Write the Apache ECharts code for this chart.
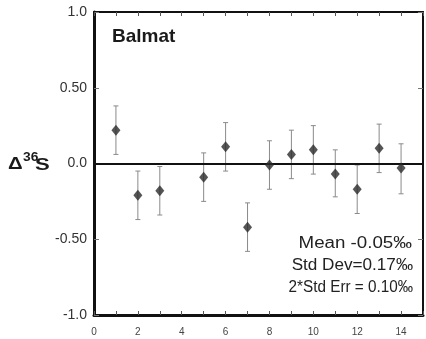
<!DOCTYPE html>
<html><head><meta charset="utf-8">
<script src="https://cdn.jsdelivr.net/npm/echarts@6/dist/echarts.min.js"></script>
<style>html,body{margin:0;padding:0;background:#fff}#c{width:426px;height:339px}</style>
</head><body><div id="c"></div>
<script>
const sampleX = [1, 2, 3, 5, 6, 7, 8, 9, 10, 11, 12, 13, 14];
const delta36S = [0.22, -0.21, -0.18, -0.09, 0.11, -0.42, -0.01, 0.06, 0.09, -0.07, -0.17, 0.10, -0.03];
const errLow = [0.06, -0.37, -0.34, -0.25, -0.05, -0.58, -0.17, -0.10, -0.07, -0.22, -0.33, -0.06, -0.20];
const errHigh = [0.38, -0.05, -0.02, 0.07, 0.27, -0.26, 0.15, 0.22, 0.25, 0.09, -0.01, 0.26, 0.13];
const yTickValues = [-1, -0.5, 0, 0.5, 1];
const yTickLabels = ['-1.0', '-0.50', '0.0', '0.50', '1.0'];
const xTickLabels = ['0', '2', '4', '6', '8', '10', '12', '14'];
const statLines = ['Mean -0.05\u2030', 'Std Dev=0.17\u2030', '2*Std Err = 0.10\u2030'];

const FONT = '"Liberation Sans", Arial, sans-serif';
const chart = echarts.init(document.getElementById('c'), null, {renderer: 'canvas'});

function yLabel(v) {
  for (let i = 0; i < yTickValues.length; i++) {
    if (Math.abs(yTickValues[i] - v) < 1e-9) return yTickLabels[i];
  }
  return '';
}
function xLabel(v) {
  const s = String(Math.round(v));
  return xTickLabels.indexOf(s) >= 0 && Math.abs(v - Math.round(v)) < 1e-9 ? s : '';
}

const option = {
  animation: false,
  backgroundColor: '#fff',
  grid: {left: 94, top: 12, width: 335.5, height: 303, containLabel: false},
  xAxis: [
    {
      type: 'value', min: 0, max: 15, interval: 1, position: 'bottom',
      axisLine: {show: true, onZero: false, lineStyle: {color: '#111', width: 3}},
      axisTick: {show: true, inside: true, length: 4, lineStyle: {color: '#555', width: 1}},
      axisLabel: {formatter: xLabel, fontSize: 10, color: '#444', margin: 12, fontFamily: FONT},
      splitLine: {show: false}
    },
    {
      type: 'value', min: 0, max: 15, interval: 1, position: 'top',
      axisLine: {show: true, onZero: false, lineStyle: {color: '#111', width: 2}},
      axisTick: {show: true, inside: true, length: 4, lineStyle: {color: '#555', width: 1}},
      axisLabel: {show: false},
      splitLine: {show: false}
    }
  ],
  yAxis: [
    {
      type: 'value', min: -1, max: 1, interval: 0.5, position: 'left',
      axisLine: {show: true, onZero: false, lineStyle: {color: '#111', width: 3}},
      axisTick: {show: true, inside: true, length: 5, lineStyle: {color: '#777', width: 1}},
      axisLabel: {formatter: yLabel, fontSize: 14, color: '#333', margin: 7, fontFamily: FONT},
      splitLine: {show: false}
    },
    {
      type: 'value', min: -1, max: 1, interval: 0.5, position: 'right',
      axisLine: {show: true, onZero: false, lineStyle: {color: '#111', width: 2}},
      axisTick: {show: true, inside: true, length: 5, lineStyle: {color: '#777', width: 1}},
      axisLabel: {show: false},
      splitLine: {show: false}
    }
  ],
  series: [
    {
      type: 'custom',
      xAxisIndex: 0, yAxisIndex: 0,
      data: sampleX.map((x, i) => [x, errLow[i], errHigh[i]]),
      encode: {x: 0, y: [1, 2]},
      z: 2,
      renderItem: function (params, api) {
        const lo = api.coord([api.value(0), api.value(1)]);
        const hi = api.coord([api.value(0), api.value(2)]);
        const w = 2.5;
        const st = {stroke: '#8a8a8a', lineWidth: 1};
        return {
          type: 'group',
          children: [
            {type: 'line', shape: {x1: lo[0], y1: lo[1], x2: hi[0], y2: hi[1]}, style: st},
            {type: 'line', shape: {x1: lo[0] - w, y1: lo[1], x2: lo[0] + w, y2: lo[1]}, style: st},
            {type: 'line', shape: {x1: hi[0] - w, y1: hi[1], x2: hi[0] + w, y2: hi[1]}, style: st}
          ]
        };
      }
    },
    {
      type: 'scatter',
      xAxisIndex: 0, yAxisIndex: 0,
      data: sampleX.map((x, i) => [x, delta36S[i]]),
      symbol: 'diamond',
      symbolSize: [9, 11],
      itemStyle: {color: '#2a2a2a'},
      z: 4,
      markLine: {
        silent: true,
        symbol: ['none', 'none'],
        label: {show: false},
        lineStyle: {color: '#111', width: 2.2, type: 'solid'},
        data: [{yAxis: 0}],
        z: 3
      }
    }
  ],
  graphic: [
    {type: 'text', x: 112, y: 37, style: {text: 'Balmat', font: 'bold 19px ' + FONT, fill: '#1a1a1a', textVerticalAlign: 'middle'}},
    {type: 'text', x: 8, y: 164, scaleX: 1.2, style: {text: '\u0394', font: 'bold 17px ' + FONT, fill: '#1a1a1a', textVerticalAlign: 'middle'}},
    {type: 'text', x: 23, y: 158, scaleX: 1.15, style: {text: '36', font: 'bold 12px ' + FONT, fill: '#1a1a1a', textVerticalAlign: 'middle'}},
    {type: 'text', x: 35, y: 165, scaleX: 1.3, style: {text: 'S', font: 'bold 17px ' + FONT, fill: '#1a1a1a', textVerticalAlign: 'middle'}},
    {type: 'text', x: 412, y: 244, scaleX: 1.17, style: {text: statLines[0], font: '16px ' + FONT, fill: '#222', textAlign: 'right', textVerticalAlign: 'middle'}},
    {type: 'text', x: 413, y: 266, scaleX: 1.07, style: {text: statLines[1], font: '16px ' + FONT, fill: '#222', textAlign: 'right', textVerticalAlign: 'middle'}},
    {type: 'text', x: 413, y: 287.5, scaleX: 0.955, style: {text: statLines[2], font: '16px ' + FONT, fill: '#222', textAlign: 'right', textVerticalAlign: 'middle'}}
  ]
};
chart.setOption(option);
</script>
</body></html>
